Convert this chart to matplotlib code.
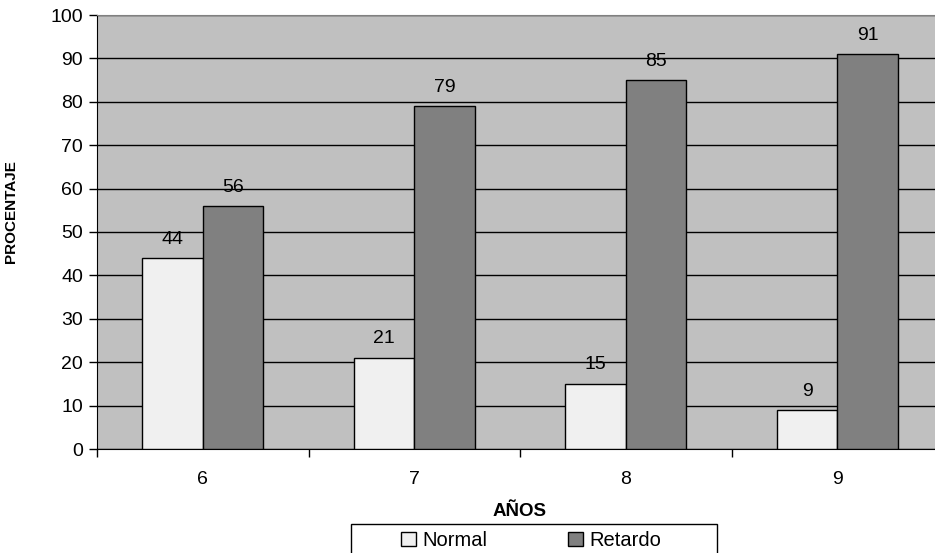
import numpy as np
import matplotlib
matplotlib.use("Agg")
import matplotlib.pyplot as plt
from matplotlib.patches import Rectangle

# porcentaje por edad
edades = ["6", "7", "8", "9"]
normal = [44, 21, 15, 9]
retardo = [56, 79, 85, 91]

plt.rcParams["font.family"] = ["Liberation Sans", "DejaVu Sans"]

fig = plt.figure(figsize=(9.35, 5.53), dpi=100)
# the plot area runs slightly past the right edge of the figure
ax = fig.add_axes([97 / 935, 104 / 553, 846 / 935, 434 / 553])
ax.set_facecolor("#c0c0c0")

x = np.arange(len(edades))
w = 0.286
b1 = ax.bar(x - w / 2, normal, w, color="#f0f0f0", edgecolor="black", linewidth=1, label="Normal", zorder=3)
b2 = ax.bar(x + w / 2, retardo, w, color="#808080", edgecolor="black", linewidth=1, label="Retardo", zorder=3)

for bars, vals in ((b1, normal), (b2, retardo)):
    for bar, v in zip(bars, vals):
        ax.text(bar.get_x() + bar.get_width() / 2, v + 2.4, str(v),
                ha="center", va="bottom", fontsize=14)

ax.set_ylim(0, 100)
ax.set_xlim(-0.5, len(edades) - 0.5)
ax.set_yticks(range(0, 101, 10))
ax.yaxis.grid(True, color="black", linewidth=1)
ax.set_axisbelow(True)

# category labels centred, tick marks on the boundaries
ax.set_xticks(x)
ax.set_xticklabels(edades)
ax.tick_params(axis="x", which="major", length=0, labelsize=14, pad=16)
ax.set_xticks(np.arange(-0.5, len(edades)), minor=True)
ax.tick_params(axis="x", which="minor", length=6, width=1, direction="out")
ax.tick_params(axis="y", length=6, width=1, labelsize=14, pad=4)

for side in ("top", "right"):
    ax.spines[side].set_color("#808080")
for side in ("left", "bottom"):
    ax.spines[side].set_color("black")

ax.set_ylabel("PROCENTAJE", fontsize=11, fontweight="bold")
ax.yaxis.set_label_coords(-0.093, 0.548)
ax.set_xlabel("AÑOS", fontsize=13.5, fontweight="bold")
ax.xaxis.set_label_coords(0.5, -0.125)

# legend box, its lower edge falls below the figure
fig.patches.append(Rectangle((351 / 935, -0.05), 366 / 935, 0.05 + 1 - 524 / 553,
                             transform=fig.transFigure, facecolor="white",
                             edgecolor="black", linewidth=1))
leg = fig.legend(loc="upper center", ncol=2, bbox_to_anchor=(531 / 935, 1 - 531 / 553),
                 fontsize=14.5, frameon=False, borderaxespad=0, borderpad=0,
                 handlelength=0.75, handleheight=0.75, handletextpad=0.3,
                 columnspacing=4.0)

fig.savefig("out.png", dpi=100, facecolor="white")
